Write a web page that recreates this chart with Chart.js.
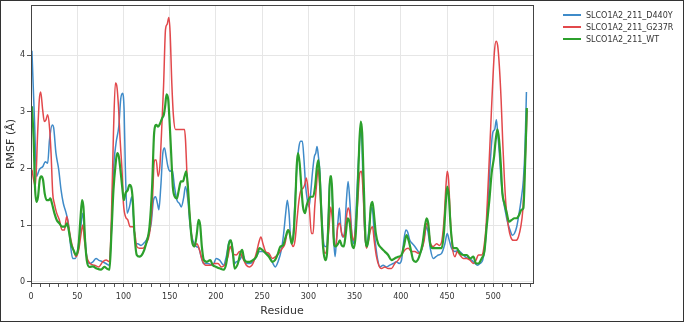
<!DOCTYPE html>
<html>
<head>
<meta charset="utf-8">
<script src="https://cdn.jsdelivr.net/npm/chart.js@4.4.1/dist/chart.umd.min.js"></script>
<style>
  body { margin: 0; background: #fff; }
  #wrap { position: relative; width: 684px; height: 322px; box-sizing: border-box; border: 1px solid #333; background: #fff; }
  #box { position: absolute; left: 0; top: 0; width: 682px; height: 320px; }
  #legenda { position: absolute; left: 562px; top: 8px; font-family: "DejaVu Sans", sans-serif; font-size: 8px; color: #333; }
  .item { height: 12px; display: flex; align-items: center; }
  .traco { width: 18px; margin-right: 5px; }
</style>
</head>
<body>
<div id="wrap">
  <div id="box"><canvas id="grafico"></canvas></div>
  <div id="legenda"></div>
</div>
<script>
// ================= DADOS =================
const nomes = ['SLCO1A2_211_D440Y', 'SLCO1A2_211_G237R', 'SLCO1A2_211_WT'];
const cores = ['#3f8bc9', '#e2484b', '#2ca02c'];
const espessuras = [1.5, 1.5, 2.2];
const espessurasLegenda = [2, 2, 2];

const residuoD440Y = [1,4,6,9,13,15.5,18,20,23,24.5,27,30,32.5,35,38,40.4,42.6,45,48,50.5,53.4,56,58,60.3,63,67,70.4,73,77.6,81,84,86.6,89,92,95,97,99,100.7,102,104,106.5,109,110.8,113,115.5,119,122.7,126.4,130,132.5,134.7,136.8,138.3,140.4,142.6,144.4,146.2,148,150.5,152.7,155.2,157.8,160.6,162.5,165,167.1,169.7,172.2,175,178.7,181.6,184,186.6,191.3,196.7,200.4,204,208.3,211.2,214.8,217.3,220.2,222,225.6,229.2,232.9,236.5,240.1,243.7,247.3,250.9,254.5,258.1,261.7,264.3,267.2,270.8,273.3,275.5,277.3,279.1,281.2,283.4,285.6,287.7,289.9,291.7,293.5,295.3,297.1,298.9,300.7,302.5,304.4,306.5,308,309.4,310.9,312.3,314.1,315.9,318.1,319.9,321.7,323.1,324.6,326,327.5,328.9,330.4,332.2,333.6,335.1,336.9,339,341.2,343,344.8,347,349.1,351.3,353.5,355.6,357.1,359.3,361.1,362.9,365,367.2,369,370.8,373,375.1,377.3,380.9,384.5,388.1,391.7,395.3,398.2,400.8,403.3,405.5,407.3,409.8,412.7,415.2,417.7,420.6,423.5,426,427.9,429.7,432.2,435.1,438,440.5,444.1,447.7,450.2,452.4,454.9,458.5,462.2,465.8,469.4,473.1,476.7,480.3,482.8,485.7,488.6,491.1,493.6,496.5,499.4,501.6,503.4,504.8,506.6,508.5,510.3,512.8,515.3,518.2,520.7,522.9,525.4,528,530.1,532.6,534.4,535.9];
const rmsfD440Y = [4.08,2.75,1.86,1.98,2.04,2.12,2.09,2.5,2.77,2.72,2.27,1.98,1.62,1.38,1.21,1.03,0.67,0.41,0.41,0.56,0.91,1.21,0.85,0.44,0.32,0.35,0.41,0.38,0.35,0.32,0.29,0.73,1.92,2.45,2.75,3.22,3.33,3.04,2.04,1.21,1.32,1.5,1.15,0.67,0.67,0.64,0.69,0.79,1.03,1.44,1.5,1.38,1.27,1.68,2.27,2.36,2.21,2.04,1.95,1.98,1.68,1.44,1.38,1.32,1.47,1.68,1.44,0.97,0.73,0.62,0.59,0.44,0.32,0.32,0.29,0.41,0.38,0.29,0.44,0.73,0.67,0.32,0.35,0.38,0.47,0.32,0.32,0.35,0.44,0.53,0.53,0.5,0.44,0.32,0.26,0.35,0.56,0.85,1.21,1.44,1.21,0.73,0.79,1.44,2.04,2.39,2.48,2.48,2.15,1.68,1.44,1.32,1.56,1.92,2.21,2.27,2.39,2.21,1.98,1.32,0.79,0.62,0.62,1.15,1.74,1.8,1.44,0.73,0.44,0.73,1.09,1.3,0.97,0.79,0.85,1.44,1.77,1.44,0.85,0.67,1.15,1.92,2.51,2.7,1.68,0.85,0.62,0.85,1.21,1.32,0.97,0.62,0.38,0.26,0.29,0.26,0.29,0.32,0.35,0.32,0.38,0.73,0.91,0.88,0.73,0.67,0.62,0.56,0.5,0.62,0.85,0.97,0.85,0.56,0.41,0.44,0.47,0.5,0.67,0.85,0.73,0.59,0.53,0.55,0.5,0.44,0.41,0.38,0.32,0.29,0.32,0.38,0.62,1.21,2.04,2.63,2.69,2.86,2.63,2.27,1.8,1.5,1.27,1.06,0.91,0.82,0.85,0.97,1.21,1.44,1.8,2.39,3.35];

const residuoG237R = [1,4.7,7.2,9,10.5,12.6,14.4,16.2,18,19.9,21.7,23.5,25.3,27.8,30.7,33.6,36.1,38.6,40.8,43.3,45.9,48.7,51.6,54.2,56,57.8,60.3,63.9,68.6,73.3,77.6,81.2,84.9,87,89.2,91.3,92.8,94.6,96.4,98.6,100,102.2,104.7,107.2,110.1,112.3,114.4,117.3,121,124.5,128.2,131,133.6,135.4,137.5,139.4,141.2,143.4,145.5,147.3,149.1,150.5,152.3,154.1,156.3,160.6,166.1,167.1,169,171.5,174.4,176.9,179.4,182.3,185.2,188.8,193.9,198.6,202.2,205.8,209.4,213,215.5,218.4,222,225.6,229.2,232.9,236.5,240.1,243.7,246.6,248.7,250.9,253.8,257.4,261,264.6,268.2,271.9,274.7,276.9,279.1,281.2,283.4,285.6,287.7,289.9,292.1,294.2,296,297.9,299.7,301.5,303.3,305.1,306.9,308.7,310.5,312.3,314.1,315.9,318.1,320.2,322.4,324.2,326,327.5,329.6,331.8,334,336.1,338.7,340.8,343,344.8,347,349.1,351.3,353.5,355.6,357.4,359.3,361.1,362.9,365,367.2,369.4,371.2,373.7,376.2,379.1,382.7,386.3,389.9,393.5,397.2,400.8,404.4,408,411.6,415.2,418.8,422.4,425.3,427.9,429.7,432.2,435.1,438.7,441.6,444.5,447,448.8,450.2,451.7,453.5,455.7,458.6,461.1,464,467.6,471.3,474.9,478.5,481.4,483.9,487.5,490,492.2,494.7,497.3,499.4,501.2,503,504.8,506.6,508.5,510.3,512.1,513.9,516.4,518.9,521.8,524.7,527.2,529.8,532,533.7,535.5,536.6];
const rmsfG237R = [1.98,1.68,2.63,3.22,3.35,3.04,2.83,2.86,2.95,2.75,2.27,1.56,1.38,1.21,1.09,0.91,0.91,1.15,0.97,0.73,0.56,0.44,0.56,0.85,1.0,0.73,0.44,0.32,0.29,0.26,0.35,0.38,0.35,1.15,2.63,3.51,3.46,3.1,2.51,1.92,1.38,1.15,1.09,0.97,0.97,0.85,0.62,0.59,0.59,0.67,0.85,1.32,2.15,2.15,1.86,2.04,2.63,3.46,4.46,4.55,4.67,4.4,3.51,2.92,2.69,2.69,2.69,2.51,1.8,1.21,0.73,0.62,0.67,0.56,0.38,0.29,0.29,0.32,0.32,0.26,0.29,0.44,0.62,0.5,0.47,0.53,0.41,0.29,0.26,0.32,0.5,0.7,0.79,0.67,0.53,0.5,0.41,0.44,0.5,0.59,0.67,0.85,0.91,0.73,0.62,0.73,1.09,1.44,1.62,1.65,1.71,1.83,1.62,1.21,0.85,0.85,1.32,1.68,2.0,1.68,1.15,0.67,0.5,0.59,0.97,1.32,1.09,0.73,0.62,0.97,1.03,0.85,0.79,1.09,1.3,1.21,0.85,0.73,0.97,1.44,1.92,1.95,1.56,0.85,0.59,0.73,0.91,0.97,0.73,0.44,0.29,0.23,0.26,0.23,0.23,0.32,0.38,0.47,0.56,0.59,0.53,0.53,0.5,0.56,0.73,1.03,0.97,0.67,0.62,0.67,0.64,0.73,1.15,1.68,1.95,1.8,1.15,0.62,0.44,0.53,0.47,0.41,0.41,0.38,0.32,0.38,0.47,0.47,0.62,0.97,1.8,2.75,3.51,4.05,4.25,4.17,3.81,3.22,2.45,1.8,1.32,0.97,0.79,0.73,0.73,0.79,0.97,1.27,1.8,2.51,3.04];

const residuoWT = [1,2.9,4.3,5.8,7.6,9.4,11.2,13,14.8,17,19.1,20.9,22.7,25.3,27.8,30.7,33.6,36.8,39,40.8,43.3,45.9,48.7,51.3,53.4,55.2,56.7,58.5,60.3,63.2,66.8,71.1,75.8,79.4,82,84.9,87,89.2,91.3,93.2,95,96.7,98.6,100.4,102.2,104.7,106.5,108.3,110.1,111.9,114.4,117.3,121,124.5,128.2,131,133.2,135.4,137.5,139.7,141.9,143.7,145.1,146.6,148.4,149.8,151.6,153.4,155.6,157.8,159.9,162.1,164.3,166.1,167.9,169.7,171.5,174,176.9,179.4,181.2,183,184.8,187,190.3,193.9,196.7,200.4,204.7,208.3,211.2,214.1,216.3,218.4,220.2,223.8,226.4,228.5,230.7,233.6,236.5,240.1,243.7,247.3,250.2,253.8,257.4,261,263.9,267.2,269.7,272.6,275.5,278,279.8,282,284.1,286,287.4,288.8,290.6,292.4,294.2,296.4,298.2,300,302.2,305.1,307.3,309.4,310.9,312.3,314.1,315.9,318.1,320.2,322,323.5,324.9,326.4,327.8,329.6,332.2,334,336.1,338.3,340.5,342.6,344.8,347,349.1,351.3,353.5,355.3,356.7,358.2,360,361.8,363.6,365.7,367.5,369.4,371.2,373,375.5,379.1,382.7,386.3,389.9,393.5,397.2,400.8,403.3,406.2,408.4,410.9,413.4,416.3,419.9,423.5,426,427.9,429.7,431.8,434.4,436.9,440.5,444.1,446.6,448.4,450.2,452,453.9,456.8,460.4,464,467.6,471.3,474.9,478.5,481.4,483.9,487.5,490.4,492.9,495.8,498.3,500.9,502.7,504.5,506.3,508.1,509.9,512.1,514.6,517.1,520,522.9,525.4,528,530.5,532.6,534.4,536.3];
const rmsfWT = [3.1,2.51,1.68,1.41,1.5,1.8,1.86,1.8,1.56,1.44,1.44,1.47,1.38,1.21,1.09,1.03,0.97,0.97,1.03,0.91,0.67,0.56,0.47,0.62,1.09,1.44,1.32,0.73,0.38,0.26,0.27,0.23,0.21,0.26,0.23,0.21,0.85,1.62,2.04,2.27,2.21,1.98,1.68,1.44,1.56,1.62,1.71,1.68,1.44,0.85,0.47,0.44,0.5,0.67,0.97,1.68,2.63,2.77,2.74,2.8,2.89,2.95,3.1,3.31,3.22,2.86,2.27,1.68,1.5,1.47,1.62,1.77,1.77,1.86,1.95,1.68,1.21,0.73,0.62,0.85,1.09,1.0,0.62,0.38,0.35,0.38,0.29,0.26,0.23,0.21,0.32,0.67,0.73,0.5,0.23,0.32,0.5,0.56,0.38,0.35,0.35,0.38,0.44,0.59,0.56,0.5,0.44,0.35,0.38,0.5,0.62,0.64,0.79,0.91,0.85,0.67,0.85,1.44,2.04,2.27,2.09,1.68,1.32,1.21,1.35,1.44,1.5,1.5,1.68,2.04,2.15,1.86,1.21,0.62,0.38,0.5,1.21,1.86,1.86,1.32,0.67,0.62,0.67,0.73,0.64,0.62,0.85,1.12,1.03,0.67,0.59,0.85,1.68,2.51,2.83,2.63,1.68,0.79,0.62,0.85,1.32,1.41,1.15,0.85,0.67,0.59,0.53,0.47,0.38,0.41,0.44,0.47,0.62,0.82,0.73,0.56,0.38,0.35,0.44,0.67,0.97,1.12,1.03,0.67,0.59,0.59,0.59,0.59,0.85,1.32,1.68,1.5,0.97,0.59,0.59,0.5,0.47,0.47,0.41,0.44,0.32,0.32,0.41,0.53,0.97,1.44,1.92,2.21,2.51,2.69,2.51,2.09,1.56,1.38,1.21,1.06,1.09,1.12,1.12,1.18,1.27,1.3,2.04,3.07];

const ticksX = [0, 50, 100, 150, 200, 250, 300, 350, 400, 450, 500];
const ticksY = [0, 1, 2, 3, 4];

// ================= MONTAGEM =================
function pontos(xs, ys) {
    return xs.map((x, i) => ({ x: x, y: ys[i] }));
}

const series = [
    pontos(residuoD440Y, rmsfD440Y),
    pontos(residuoG237R, rmsfG237R),
    pontos(residuoWT, rmsfWT)
];

// Moldura completa em volta da área do gráfico (top e right)
const moldura = {
    id: 'moldura',
    afterDraw(chart) {
        const a = chart.chartArea;
        const c = chart.ctx;
        c.save();
        c.strokeStyle = '#444';
        c.lineWidth = 1;
        c.strokeRect(Math.round(a.left) + 0.5, Math.round(a.top) + 0.5, Math.round(a.right - a.left), Math.round(a.bottom - a.top));
        c.restore();
    }
};

const fonteTicks = { family: 'DejaVu Sans', size: 8 };

new Chart(document.getElementById('grafico'), {
    type: 'line',
    data: {
        datasets: series.map((dados, i) => ({
            label: nomes[i],
            data: dados,
            borderColor: cores[i],
            borderWidth: espessuras[i],
            pointRadius: 0,
            cubicInterpolationMode: 'monotone',
            fill: false,
            order: 3 - i // WT desenhado por cima
        }))
    },
    options: {
        responsive: true,
        maintainAspectRatio: false,
        animation: false,
        layout: { padding: { top: 4, right: 150, left: 0, bottom: 0 } },
        plugins: { legend: { display: false }, tooltip: { enabled: false } },
        scales: {
            x: {
                type: 'linear',
                min: 0,
                max: 543,
                afterFit(s) { s.height = 38; s.paddingLeft = 0; s.paddingRight = 0; },
                afterBuildTicks(s) {
                    const t = [];
                    for (let v = 0; v <= 540; v += 10) t.push({ value: v });
                    s.ticks = t;
                },
                ticks: {
                    autoSkip: false,
                    maxRotation: 0,
                    padding: 5,
                    color: '#333',
                    font: fonteTicks,
                    callback: v => ticksX.includes(v) ? String(v) : ''
                },
                grid: {
                    color: ctx => ticksX.includes(ctx.tick && ctx.tick.value) ? '#e6e6e6' : 'rgba(0,0,0,0)',
                    tickColor: '#555',
                    tickLength: 4,
                    lineWidth: 1
                },
                border: { color: '#444' },
                title: {
                    display: true,
                    text: 'Residue',
                    color: '#333',
                    font: { family: 'DejaVu Sans', size: 11 },
                    padding: { top: 0, bottom: 3 }
                }
            },
            y: {
                type: 'linear',
                min: -0.025,
                max: 4.89,
                afterFit(s) { s.width = 30; s.paddingTop = 0; s.paddingBottom = 0; },
                afterBuildTicks(s) { s.ticks = ticksY.map(v => ({ value: v })); },
                ticks: {
                    padding: 2,
                    color: '#333',
                    font: fonteTicks
                },
                grid: {
                    color: '#e6e6e6',
                    tickColor: '#555',
                    tickLength: 4
                },
                border: { color: '#444' },
                title: {
                    display: true,
                    text: 'RMSF (Å)',
                    color: '#333',
                    font: { family: 'DejaVu Sans', size: 11 },
                    padding: { top: 4, bottom: 0 }
                }
            }
        }
    },
    plugins: [moldura]
});

// ================= LEGENDA =================
const legenda = document.getElementById('legenda');
nomes.forEach((nome, i) => {
    const item = document.createElement('div');
    item.className = 'item';
    item.innerHTML = `<div class="traco" style="height:${espessurasLegenda[i]}px;background:${cores[i]}"></div><span>${nome}</span>`;
    legenda.appendChild(item);
});
</script>
</body>
</html>
